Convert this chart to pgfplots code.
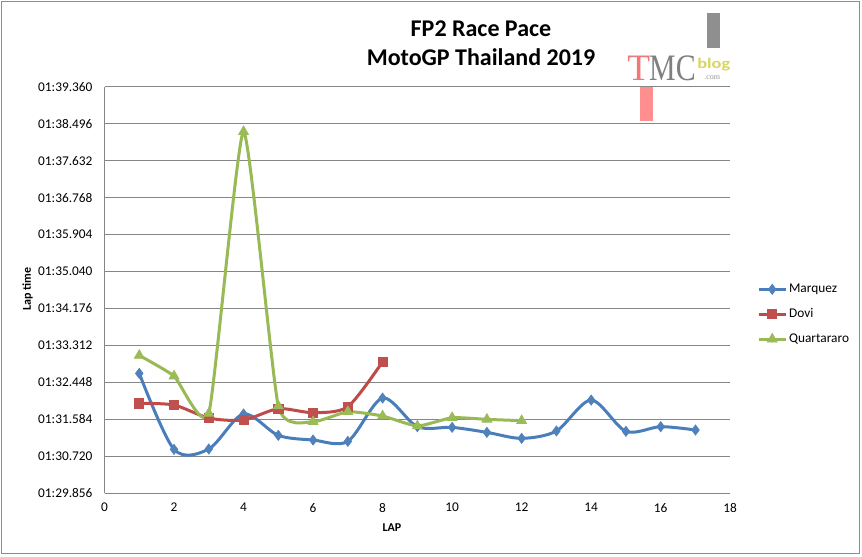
\documentclass[border=0pt]{standalone}
\usepackage{pgfplots}
\pgfplotsset{compat=1.18}
\usepackage{fontspec}
\setmainfont{Carlito}
\newfontfamily\seriflogo{Liberation Serif}
\definecolor{mblue}{HTML}{4A7EBB}
\definecolor{mbluef}{HTML}{4F81BD}
\definecolor{mred}{HTML}{BE4B48}
\definecolor{mredf}{HTML}{C0504D}
\definecolor{mgreen}{HTML}{98B954}
\definecolor{mgreenf}{HTML}{9BBB59}
\definecolor{gridgray}{HTML}{868686}
\definecolor{framegray}{HTML}{8C8C8C}
\begin{document}
\begin{tikzpicture}[x=0.75pt,y=0.75pt]
% picture frame
\path[fill=white] (0,0) rectangle (862,556);
\draw[framegray, line width=0.75pt] (1.5,2.5) rectangle (859.5,554.5);
% title
\node[align=center, font={\fontsize{18}{21.8}\selectfont\bfseries}] at (481,513) {FP2 Race Pace\\MotoGP Thailand 2019};
% logo
\fill[color={rgb,255:red,143;green,143;blue,143}] (707,543) rectangle (720,508);
\fill[color={rgb,255:red,255;green,143;blue,143}] (640,470) rectangle (653,435);
\node[anchor=base west, inner sep=0pt, text={rgb,255:red,240;green,120;blue,120}, font={\seriflogo\fontsize{28}{28}\selectfont}] at (627,475) {T};
\node[anchor=base west, inner sep=0pt, xscale=0.8, text={rgb,255:red,128;green,128;blue,128}, font={\seriflogo\fontsize{28}{28}\selectfont}] at (649,475) {MC};
\node[anchor=base west, inner sep=0pt, xscale=1.25, text={rgb,255:red,215;green,215;blue,95}, font={\fontsize{11}{11}\selectfont\bfseries}] at (697,487) {blog};
\node[anchor=base west, inner sep=0pt, text={rgb,255:red,150;green,150;blue,150}, font={\seriflogo\fontsize{6}{6}\selectfont}] at (704,476.5) {.com};
% axis labels
\node[rotate=90, font={\fontsize{9}{10}\selectfont\bfseries}] at (27.5,267) {Lap time};
\node[font={\fontsize{9}{10}\selectfont\bfseries}] at (392,28) {LAP};
\begin{axis}[
  at={(78.375pt,47.025pt)}, anchor=south west,
  scale only axis, width=469.3pt, height=305pt,
  xmin=0, xmax=18, ymin=89.856, ymax=99.360,
  xtick={0,2,...,18},
  ytick={89.856,90.720,91.584,92.448,93.312,94.176,95.040,95.904,96.768,97.632,98.496,99.360},
  yticklabels={01:29.856,01:30.720,01:31.584,01:32.448,01:33.312,01:34.176,01:35.040,01:35.904,01:36.768,01:37.632,01:38.496,01:39.360},
  /pgf/number format/assume math mode=true,
  axis x line*=bottom, axis y line*=left,
  axis line style={gridgray, line width=0.75pt, -},
  major tick length=0pt,
  ymajorgrids, grid style={gridgray, line width=0.75pt},
  ticklabel style={font={\fontsize{10}{12}\selectfont}},
  yticklabel style={xshift=-5.5pt},
  xticklabel style={yshift=-4pt},
  clip=false,
  legend style={at={(1.043,0.52)}, anchor=north west, draw=none, fill=none,
    font={\fontsize{10}{12}\selectfont}, row sep=7.5pt, inner sep=0pt,
    nodes={inner sep=1.5pt}},
  legend cell align=left,
  legend image code/.code={\draw[mark repeat=2,mark phase=2] plot coordinates {(0pt,0pt) (10pt,0pt) (20pt,0pt)};},
]
\addplot[smooth, tension=0.5, color=mblue, line width=2.25pt, mark=diamond*, mark size=3.8pt,
  mark options={fill=mbluef, draw=mbluef, line width=0.5pt}]
  coordinates {(1,92.658) (2,90.883) (3,90.891) (4,91.709) (5,91.210) (6,91.101) (7,91.070) (8,92.082) (9,91.413) (10,91.397) (11,91.280) (12,91.140) (13,91.312) (14,92.035) (15,91.304) (16,91.413) (17,91.335)};
\addlegendentry{Marquez}
\addplot[smooth, tension=0.45, color=mred, line width=2.25pt, mark=square*, mark size=3.4pt,
  mark options={fill=mredf, draw=mredf, line width=0.5pt}]
  coordinates {(1,91.958) (2,91.919) (3,91.615) (4,91.568) (5,91.833) (6,91.740) (7,91.880) (8,92.931)};
\addlegendentry{Dovi}
\addplot[smooth, tension=0.3, color=mgreen, line width=2.25pt, mark=triangle*, mark size=4.3pt,
  mark options={fill=mgreenf, draw=mgreenf, line width=0.5pt}]
  coordinates {(1,93.078) (2,92.596) (3,91.724) (4,98.308) (5,91.895) (6,91.529) (7,91.763) (8,91.662) (9,91.428) (10,91.623) (11,91.584) (12,91.553)};
\addlegendentry{Quartararo}
\end{axis}
\end{tikzpicture}
\end{document}
